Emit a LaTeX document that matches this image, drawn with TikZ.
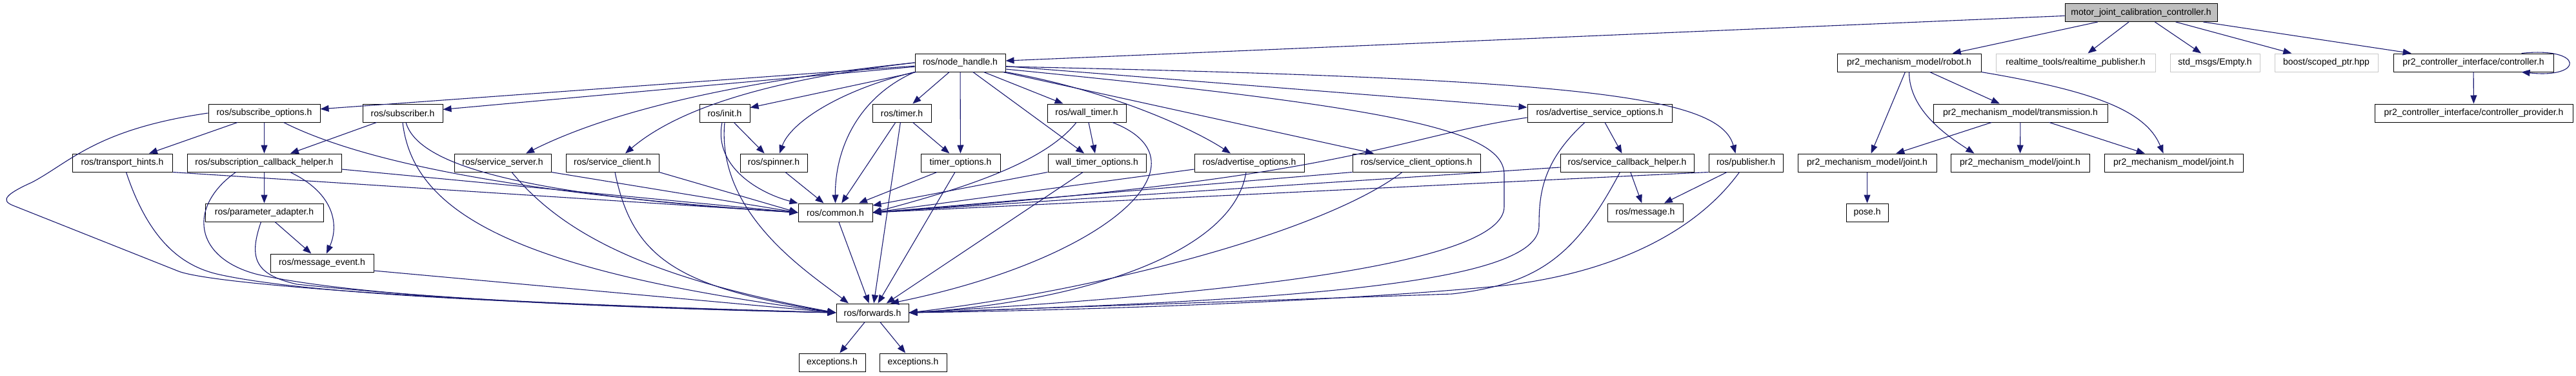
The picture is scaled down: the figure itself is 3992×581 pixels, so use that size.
\documentclass[tikz,border=0pt]{standalone}
\usepackage{fontspec}
\setmainfont{Liberation Sans}
\usetikzlibrary{arrows.meta}
\definecolor{edgeblue}{HTML}{191970}
\definecolor{rootgray}{HTML}{BFBFBF}
\definecolor{extgray}{HTML}{C8C8C8}

\begin{document}
\begin{tikzpicture}[x=1pt, y=-1pt, >={Triangle[length=13pt, width=10pt]},
        hdr/.style = {draw, line width=1pt, rectangle, minimum height=28, inner xsep=2pt, font=\fontsize{14}{16}\selectfont},
        root/.style = {hdr, fill=rootgray},
        ext/.style = {hdr, draw=extgray},
        dep/.style = {->, draw=edgeblue, line width=1.1pt}]
        \useasboundingbox (0,0) rectangle (3992,581);
        \node[root, minimum width=236] (motor) at (3318,19.5) {motor\_joint\_calibration\_controller.h};
        \node[hdr, minimum width=140] (nh) at (1488,97) {ros/node\_handle.h};
        \node[hdr, minimum width=223] (robot) at (2958.5,97) {pr2\_mechanism\_model/robot.h};
        \node[ext, minimum width=247] (rtpub) at (3216.5,97) {realtime\_tools/realtime\_publisher.h};
        \node[ext, minimum width=139] (empty) at (3432.5,97) {std\_msgs/Empty.h};
        \node[ext, minimum width=160] (scoped) at (3605,97) {boost/scoped\_ptr.hpp};
        \node[hdr, minimum width=248] (ctrl) at (3833,97) {pr2\_controller\_interface/controller.h};
        \node[hdr, minimum width=173] (subopts) at (409.5,175) {ros/subscribe\_options.h};
        \node[hdr, minimum width=124] (subscriber) at (624,175) {ros/subscriber.h};
        \node[hdr, minimum width=78] (init) at (1123,175) {ros/init.h};
        \node[hdr, minimum width=91] (timer) at (1397.5,175) {ros/timer.h};
        \node[hdr, minimum width=122] (walltimer) at (1684,175) {ros/wall\_timer.h};
        \node[hdr, minimum width=224] (advsrvopts) at (2479,175) {ros/advertise\_service\_options.h};
        \node[hdr, minimum width=270] (transmission) at (3131,175) {pr2\_mechanism\_model/transmission.h};
        \node[hdr, minimum width=307] (ctrlprov) at (3833.5,175) {pr2\_controller\_interface/controller\_provider.h};
        \node[hdr, minimum width=155] (transport) at (189.5,252) {ros/transport\_hints.h};
        \node[hdr, minimum width=239] (subcb) at (409.5,252) {ros/subscription\_callback\_helper.h};
        \node[hdr, minimum width=150] (srvserver) at (779,252) {ros/service\_server.h};
        \node[hdr, minimum width=144] (srvclient) at (949,252) {ros/service\_client.h};
        \node[hdr, minimum width=104] (spinner) at (1199,252) {ros/spinner.h};
        \node[hdr, minimum width=123] (timeropts) at (1488.5,252) {timer\_options.h};
        \node[hdr, minimum width=152] (walltimeropts) at (1700,252) {wall\_timer\_options.h};
        \node[hdr, minimum width=170] (advopts) at (1936,252) {ros/advertise\_options.h};
        \node[hdr, minimum width=198] (srvclientopts) at (2195,252) {ros/service\_client\_options.h};
        \node[hdr, minimum width=207] (srvcb) at (2521.5,252) {ros/service\_callback\_helper.h};
        \node[hdr, minimum width=115] (publisher) at (2705.5,252) {ros/publisher.h};
        \node[hdr, minimum width=215] (joint1) at (2893.5,252) {pr2\_mechanism\_model/joint.h};
        \node[hdr, minimum width=215] (joint2) at (3130.5,252) {pr2\_mechanism\_model/joint.h};
        \node[hdr, minimum width=215] (joint3) at (3368.5,252) {pr2\_mechanism\_model/joint.h};
        \node[hdr, minimum width=183] (paramadapter) at (409.5,329) {ros/parameter\_adapter.h};
        \node[hdr, minimum width=115] (common) at (1294.5,329) {ros/common.h};
        \node[hdr, minimum width=117] (message) at (2549.5,329) {ros/message.h};
        \node[hdr, minimum width=65] (pose) at (2893.5,329) {pose.h};
        \node[hdr, minimum width=160] (msgevent) at (499,407) {ros/message\_event.h};
        \node[hdr, minimum width=112] (forwards) at (1352,484) {ros/forwards.h};
        \node[hdr, minimum width=103] (exc1) at (1289.5,561) {exceptions.h};
        \node[hdr, minimum width=104] (exc2) at (1415,561) {exceptions.h};

        \draw[dep] (motor) -- (nh);
        \draw[dep] (motor) -- (robot);
        \draw[dep] (motor) -- (rtpub);
        \draw[dep] (motor) -- (empty);
        \draw[dep] (motor) -- (scoped);
        \draw[dep] (motor) -- (ctrl);
        \draw[dep] ([xshift=-50pt]ctrl.north east) .. controls (4005,72) and (4005,122) .. ([xshift=-50pt]ctrl.south east);
        \draw[dep] (ctrl) -- (ctrlprov);
        \draw[dep] (robot) -- (transmission);
        \draw[dep] (robot) -- (joint1);
        \draw[dep] (robot.south) .. controls +(0,60) and +(-40,-26) .. ([xshift=-71pt]joint2.north);
        \draw[dep] (robot.south east) .. controls (3240,140) and (3325,170) .. ([xshift=-16pt]joint3.north);
        \draw[dep] (transmission) -- (joint1);
        \draw[dep] (transmission) -- (joint2);
        \draw[dep] (transmission) -- (joint3);
        \draw[dep] (joint1) -- (pose);

        \draw[dep] (nh) -- (subopts);
        \draw[dep] (nh) -- (subscriber);
        \draw[dep] (nh.west) .. controls (1150,125) and (950,170) .. ([xshift=36pt]srvserver.north);
        \draw[dep] (nh.west) .. controls (1220,120) and (1060,160) .. ([xshift=20pt]srvclient.north);
        \draw[dep] (nh) -- (init);
        \draw[dep] (nh.south west) .. controls (1300,140) and (1225,190) .. ([xshift=9pt]spinner.north);
        \draw[dep] (nh.south west) .. controls (1330,150) and (1294,230) .. (common.north);
        \draw[dep] (nh) -- (timer);
        \draw[dep] (nh) -- (timeropts);
        \draw[dep] (nh) -- (walltimer);
        \draw[dep] (nh) -- (walltimeropts);
        \draw[dep] (nh.south east) .. controls (1720,140) and (1850,200) .. ([xshift=-29pt]advopts.north);
        \draw[dep] (nh) -- (advsrvopts);
        \draw[dep] (nh) -- (srvclientopts);
        \draw[dep] ([yshift=-6pt]nh.east) .. controls (2450,122) and (2665,148) .. ([xshift=-16pt]publisher.north);
        \draw[dep] ([yshift=-10pt]nh.east) .. controls (2150,165) and (2331,200) .. (2331,270) -- (2331,320) .. controls (2331,410) and (1900,455) .. (forwards.east);

        \draw[dep] (subopts) -- (transport);
        \draw[dep] (subopts) -- (subcb);
        \draw[dep] ([xshift=30pt]subopts.south) .. controls (560,250) and (800,300) .. (common.west);
        \draw[dep] (subopts.west) .. controls (150,200) and (110,250) .. (50,282) .. controls (10,300) and (0,310) .. (20,318) -- (277,420) .. controls (330,440) and (700,468) .. (forwards.west);
        \draw[dep] (subscriber) -- (subcb);
        \draw[dep] ([xshift=5pt]subscriber.south) .. controls (645,245) and (760,300) .. (common.west);
        \draw[dep] (subscriber.south) .. controls (640,330) and (800,420) .. (forwards.west);
        \draw[dep] (transport.south east) -- (common.west);
        \draw[dep] ([xshift=6pt]transport.south) .. controls (230,370) and (280,412) .. (340,425) .. controls (500,460) and (900,472) .. (forwards.west);
        \draw[dep] (subcb) -- (paramadapter);
        \draw[dep] ([xshift=40pt]subcb.south) .. controls (520,300) and (525,350) .. ([xshift=7pt]msgevent.north);
        \draw[dep] ([xshift=-44pt]subcb.south) .. controls (290,320) and (300,400) .. (400,425) .. controls (560,460) and (900,475) .. (forwards.west);
        \draw[dep] ([yshift=-10pt]subcb.east) -- (common.west);
        \draw[dep] (paramadapter) -- (msgevent);
        \draw[dep] ([xshift=-5pt]paramadapter.south) .. controls (385,400) and (395,425) .. (460,440) .. controls (700,465) and (1000,478) .. (forwards.west);
        \draw[dep] ([yshift=-12pt]msgevent.east) -- (forwards.west);
        \draw[dep] (srvserver.south east) -- (common.west);
        \draw[dep] ([xshift=14pt]srvserver.south) .. controls (870,360) and (1000,430) .. (forwards.west);
        \draw[dep] (srvclient.south east) -- (common.west);
        \draw[dep] ([xshift=4pt]srvclient.south) .. controls (980,400) and (1050,445) .. (forwards.west);
        \draw[dep] (init) -- (spinner);
        \draw[dep] ([xshift=-4pt]init.south) .. controls (1105,260) and (1180,300) .. (common.north west);
        \draw[dep] (init.south) .. controls (1110,330) and (1250,420) .. ([xshift=-37pt]forwards.north);
        \draw[dep] (spinner) -- (common);
        \draw[dep] (timer) -- (common);
        \draw[dep] (timer) -- (forwards);
        \draw[dep] (timer) -- (timeropts);
        \draw[dep] (timeropts) -- (common);
        \draw[dep] (timeropts) -- (forwards);
        \draw[dep] (walltimer) -- (walltimeropts);
        \draw[dep] ([xshift=-16pt]walltimer.south) .. controls (1620,250) and (1500,290) .. (common.east);
        \draw[dep] ([xshift=40pt]walltimer.south) .. controls (1880,250) and (1720,400) .. ([xshift=28pt]forwards.north);
        \draw[dep] (walltimeropts) -- (common);
        \draw[dep] (walltimeropts) -- (forwards);
        \draw[dep] ([yshift=-10pt]advopts.west) -- (common.east);
        \draw[dep] ([xshift=-5pt]advopts.south) .. controls (1910,400) and (1650,470) .. (forwards.east);
        \draw[dep] (srvclientopts.south west) -- (common.east);
        \draw[dep] ([xshift=-22pt]srvclientopts.south) .. controls (2050,360) and (1700,450) .. (forwards.east);
        \draw[dep] (advsrvopts) -- (srvcb);
        \draw[dep] ([yshift=-7pt]advsrvopts.west) .. controls (2150,215) and (2100,275) .. (common.east);
        \draw[dep] ([xshift=-23pt]advsrvopts.south) .. controls (2390,250) and (2385,300) .. (2385,350) .. controls (2385,440) and (2000,465) .. (forwards.east);
        \draw[dep] (srvcb) -- (message);
        \draw[dep] ([yshift=-7pt]srvcb.west) -- (common.east);
        \draw[dep] ([xshift=-11pt]srvcb.south) .. controls (2440,400) and (2380,440) .. (2250,455) -- (forwards.east);
        \draw[dep] (publisher) -- (message);
        \draw[dep] (publisher.south west) -- (common.east);
        \draw[dep] ([xshift=-10pt]publisher.south) .. controls (2620,370) and (2480,425) .. (2330,442) .. controls (2100,465) and (1700,480) .. (forwards.east);
        \draw[dep] (common) -- (forwards);
        \draw[dep] (forwards) -- (exc1);
        \draw[dep] (forwards) -- (exc2);
    \end{tikzpicture}
\end{document}
